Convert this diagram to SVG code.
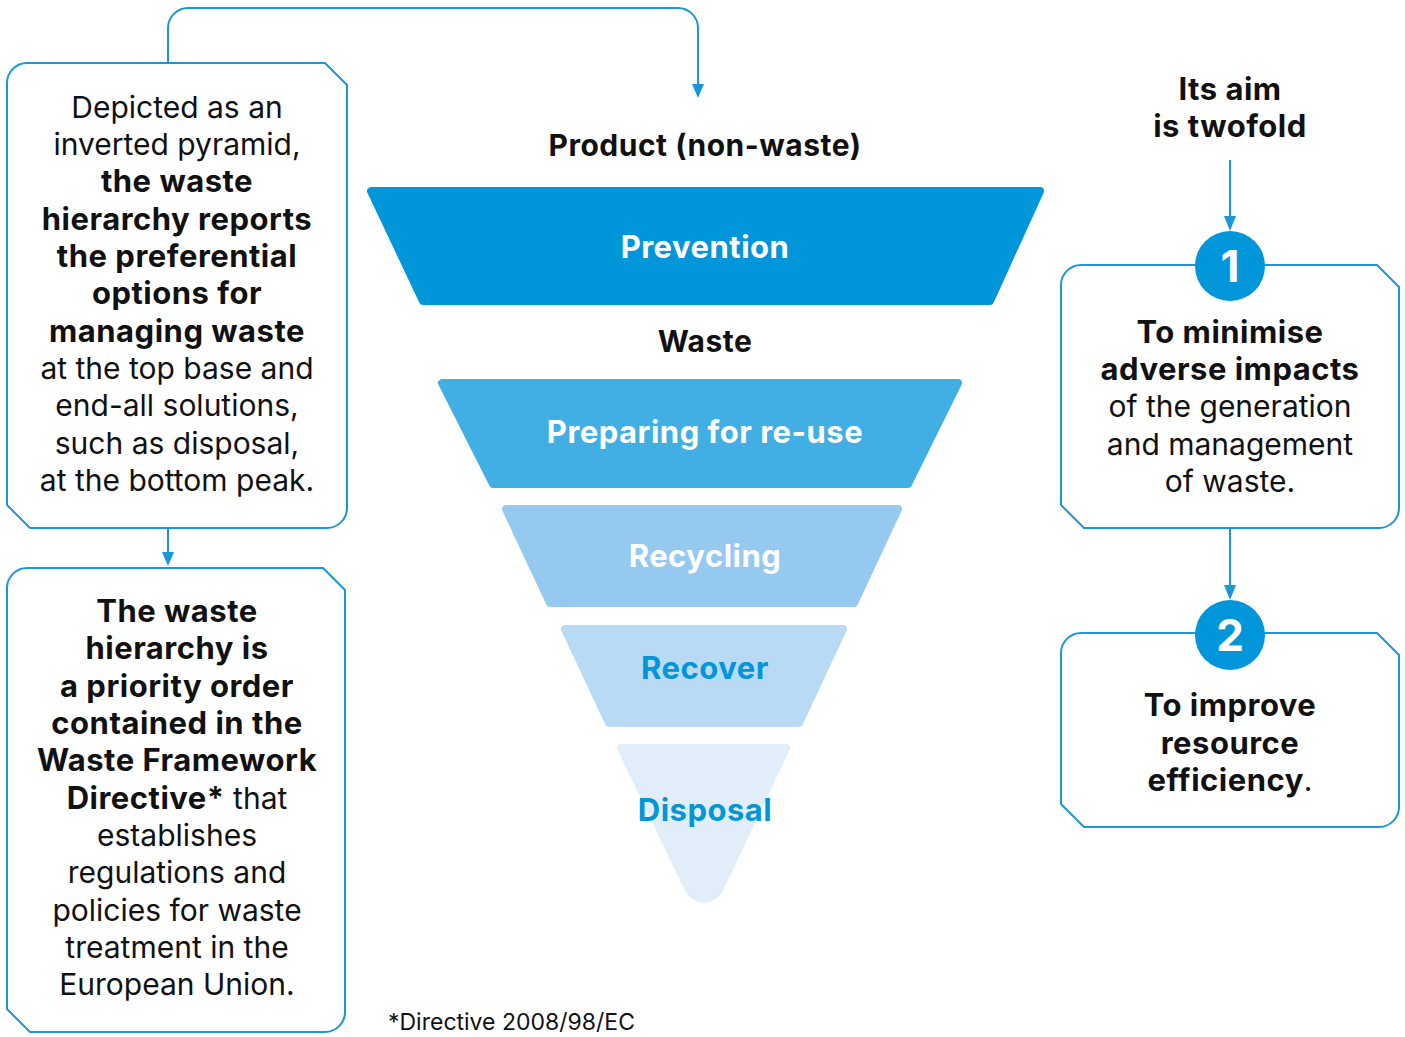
<svg xmlns="http://www.w3.org/2000/svg" width="1405" height="1037" viewBox="0 0 1405 1037">
<defs>
<style>
.box{fill:#fff;stroke:#1b96d6;stroke-width:2}
.con{fill:none;stroke:#1b96d6;stroke-width:2}
.t{font-family:Inter,Roboto,"Liberation Sans",sans-serif;font-size:30px;fill:#111;text-anchor:middle}
.b{font-weight:700;font-size:31px;letter-spacing:0.5px}
.bs{font-weight:700;letter-spacing:0.5px}
.lay{stroke-linejoin:round;stroke-width:8}
.lbl{font-family:Inter,Roboto,"Liberation Sans",sans-serif;font-size:31px;font-weight:700;letter-spacing:0.5px;text-anchor:middle}
.num{font-family:Inter,Roboto,"Liberation Sans",sans-serif;font-size:44px;font-weight:700;fill:#fff;text-anchor:middle}
</style>
</defs>

<g id="connectors">
<path class="con" d="M168 63 L168 28 A20 20 0 0 1 188 8 L678 8 A20 20 0 0 1 698 28 L698 84"/>
<path d="M692 84 L704 84 L698 98 Z" fill="#1b96d6"/>
<path class="con" d="M168 528 L168 553"/>
<path d="M162 552 L174 552 L168 566 Z" fill="#1b96d6"/>
<path class="con" d="M1230 160 L1230 216"/>
<path d="M1224 216 L1236 216 L1230 231 Z" fill="#1b96d6"/>
<path class="con" d="M1230 528 L1230 585"/>
<path d="M1224 585 L1236 585 L1230 600 Z" fill="#1b96d6"/>
</g>

<g id="box-pyramid-desc">
<path class="box" d="M27 63 L325 63 L347 85 L347 508 A20 20 0 0 1 327 528 L30 528 L7 505 L7 83 A20 20 0 0 1 27 63 Z"/>
<text class="t" x="177" y="118">Depicted as an</text>
<text class="t" x="177" y="155">inverted pyramid,</text>
<text class="t b" x="177" y="192">the waste</text>
<text class="t b" x="177" y="230">hierarchy reports</text>
<text class="t b" x="177" y="267">the preferential</text>
<text class="t b" x="177" y="304">options for</text>
<text class="t b" x="177" y="342">managing waste</text>
<text class="t" x="177" y="379">at the top base and</text>
<text class="t" x="177" y="416">end-all solutions,</text>
<text class="t" x="177" y="454">such as disposal,</text>
<text class="t" x="177" y="491">at the bottom peak.</text>
</g>

<g id="box-directive">
<path class="box" d="M27 568 L323 568 L345 590 L345 1012 A20 20 0 0 1 325 1032 L30 1032 L7 1009 L7 588 A20 20 0 0 1 27 568 Z"/>
<text class="t b" x="177" y="622">The waste</text>
<text class="t b" x="177" y="659">hierarchy is</text>
<text class="t b" x="177" y="697">a priority order</text>
<text class="t b" x="177" y="734">contained in the</text>
<text class="t b" x="177" y="771">Waste Framework</text>
<text class="t" x="177" y="809"><tspan font-weight="700" font-size="31" letter-spacing="0.5">Directive*</tspan> that</text>
<text class="t" x="177" y="846">establishes</text>
<text class="t" x="177" y="883">regulations and</text>
<text class="t" x="177" y="921">policies for waste</text>
<text class="t" x="177" y="958">treatment in the</text>
<text class="t" x="177" y="995">European Union.</text>
</g>

<g id="footnote">
<text x="388" y="1030" font-family="Inter,Roboto,'Liberation Sans',sans-serif" font-size="23" fill="#111">*Directive 2008/98/EC</text>
</g>

<g id="aim-title">
<text class="t b" x="1230" y="100">Its aim</text>
<text class="t b" x="1230" y="137">is twofold</text>
</g>

<g id="aim-1">
<path class="box" d="M1081 265 L1377 265 L1399 287 L1399 508 A20 20 0 0 1 1379 528 L1084 528 L1061 505 L1061 285 A20 20 0 0 1 1081 265 Z"/>
<circle cx="1230" cy="266" r="35" fill="#0096d9"/>
<text class="num" x="1230" y="282">1</text>
<text class="t b" x="1230" y="343">To minimise</text>
<text class="t b" x="1230" y="380">adverse impacts</text>
<text class="t" x="1230" y="417">of the generation</text>
<text class="t" x="1230" y="455">and management</text>
<text class="t" x="1230" y="492">of waste.</text>
</g>

<g id="aim-2">
<path class="box" d="M1081 633 L1377 633 L1399 655 L1399 807 A20 20 0 0 1 1379 827 L1084 827 L1061 804 L1061 653 A20 20 0 0 1 1081 633 Z"/>
<circle cx="1230" cy="635" r="35" fill="#0096d9"/>
<text class="num" x="1230" y="651">2</text>
<text class="t b" x="1230" y="716">To improve</text>
<text class="t b" x="1230" y="754">resource</text>
<text class="t" x="1230" y="791"><tspan font-weight="700" font-size="31" letter-spacing="0.5">efficiency</tspan>.</text>
</g>

<g id="product-label">
<text class="t bs" x="705" y="156">Product (non-waste)</text>
</g>

<g id="layer-prevention">
<polygon class="lay" points="371,191 1040,191 990,301 423,301" fill="#0096d9" stroke="#0096d9"/>
<text class="lbl" x="705" y="258" fill="#fff">Prevention</text>
</g>

<g id="waste-label">
<text class="t bs" x="705" y="352">Waste</text>
</g>

<g id="layer-reuse">
<polygon class="lay" points="442,383 958,383 908,484 493,484" fill="#41aee4" stroke="#41aee4"/>
<text class="lbl" x="705" y="443" fill="#fff">Preparing for re-use</text>
</g>

<g id="layer-recycling">
<polygon class="lay" points="506,509 898,509 854,603 550,603" fill="#96c9ef" stroke="#96c9ef"/>
<text class="lbl" x="705" y="567" fill="#fff">Recycling</text>
</g>

<g id="layer-recover">
<polygon class="lay" points="565,629 843,629 799,723 609,723" fill="#b9daf4" stroke="#b9daf4"/>
<text class="lbl" x="705" y="679" fill="#0096d9">Recover</text>
</g>

<g id="layer-disposal">
<path d="M621 744 L786 744 A4 4 0 0 1 790 749 L723.6 889.6 A21.6 21.6 0 0 1 684.4 889.6 L617 749 A4 4 0 0 1 621 744 Z" fill="#e1eefa"/>
<text class="lbl" x="705" y="821" fill="#0096d9">Disposal</text>
</g>
</svg>
